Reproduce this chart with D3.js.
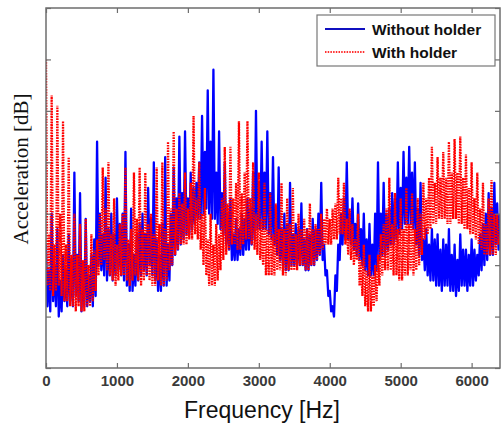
<!DOCTYPE html>
<html>
<head>
<meta charset="utf-8">
<script src="https://cdn.jsdelivr.net/npm/d3@7"></script>
<style>
  body { margin: 0; background: #fff; }
  svg { display: block; }
</style>
</head>
<body>
<div id="chart"></div>
<script>
// spectrum sampled every 20 Hz, 0..6400 Hz (levels in dB, relative)
var freqStep = 20;
var xTicks = [0, 1000, 2000, 3000, 4000, 5000, 6000];
var seriesNames = ["Without holder", "With holder"];

var withoutHolder = [
  24, 12, 19, 11, 30, 13, 20, 12, 27, 10, 17, 11, 22, 13, 19, 12, 26, 13, 21, 12,
  38, 14, 22, 13, 34, 11, 20, 12, 29, 12, 18, 13, 22, 12, 25, 14, 44, 20, 30, 19,
  26, 18, 37, 17, 27, 18, 30, 17, 26, 18, 33, 19, 28, 18, 30, 17, 42, 16, 24, 15,
  31, 15, 22, 16, 26, 17, 28, 18, 30, 19, 26, 18, 35, 20, 29, 18, 40, 17, 25, 15,
  22, 15, 28, 16, 41, 16, 24, 17, 30, 20, 39, 22, 33, 23, 45, 24, 34, 25, 46, 26,
  33, 26, 38, 27, 35, 28, 36, 29, 40, 29, 49, 30, 42, 31, 54, 30, 44, 29, 58, 29,
  38, 28, 46, 27, 34, 26, 40, 24, 30, 23, 33, 21, 26, 21, 29, 21, 27, 22, 30, 22,
  29, 23, 33, 23, 31, 24, 38, 25, 50, 27, 36, 27, 44, 27, 38, 27, 46, 26, 34, 25,
  41, 24, 31, 22, 39, 21, 27, 20, 30, 19, 28, 19, 36, 20, 26, 20, 28, 20, 27, 20,
  32, 20, 25, 19, 27, 19, 26, 20, 29, 20, 27, 21, 30, 22, 36, 21, 24, 18, 19, 14,
  15, 11, 12, 10, 18, 15, 24, 21, 30, 24, 33, 25, 40, 25, 30, 24, 33, 23, 28, 22,
  32, 21, 27, 20, 30, 19, 25, 18, 28, 18, 24, 18, 30, 19, 40, 21, 30, 22, 36, 22,
  30, 23, 31, 24, 34, 24, 33, 25, 40, 26, 35, 27, 42, 28, 37, 28, 43, 28, 38, 27,
  40, 24, 31, 22, 36, 21, 25, 19, 27, 18, 24, 17, 27, 17, 25, 16, 26, 16, 23, 15,
  25, 16, 24, 16, 27, 15, 22, 15, 24, 14, 21, 15, 26, 16, 23, 16, 23, 15, 22, 16,
  25, 16, 23, 17, 22, 18, 26, 19, 28, 20, 30, 21, 34, 22, 31, 22, 36, 24, 32, 23,
  30
];

var withHolder = [
  60, 16, 26, 15, 53, 14, 24, 15, 51, 16, 30, 14, 48, 13, 24, 13, 41, 12, 22, 12,
  30, 11, 22, 12, 28, 11, 21, 11, 29, 12, 20, 12, 26, 13, 23, 15, 25, 18, 30, 20,
  39, 21, 31, 19, 40, 18, 26, 17, 33, 16, 24, 17, 28, 18, 30, 18, 39, 17, 25, 16,
  27, 17, 38, 18, 29, 17, 39, 16, 27, 17, 38, 18, 28, 17, 30, 16, 26, 16, 39, 17,
  28, 16, 40, 16, 27, 17, 44, 19, 31, 20, 46, 22, 31, 23, 34, 24, 32, 24, 38, 24,
  31, 25, 36, 25, 49, 26, 33, 25, 40, 23, 30, 20, 35, 18, 25, 16, 30, 16, 24, 16,
  28, 17, 26, 19, 33, 21, 43, 22, 32, 23, 43, 24, 33, 24, 36, 23, 48, 23, 34, 24,
  38, 25, 48, 25, 33, 24, 40, 23, 30, 22, 38, 21, 29, 20, 36, 18, 27, 18, 34, 18,
  26, 18, 32, 19, 27, 19, 36, 18, 27, 18, 33, 19, 28, 19, 35, 19, 26, 19, 30, 20,
  27, 20, 29, 19, 27, 19, 32, 20, 27, 20, 28, 21, 27, 22, 30, 23, 29, 24, 31, 24,
  29, 24, 31, 25, 32, 25, 37, 26, 33, 26, 36, 24, 29, 22, 31, 21, 28, 20, 25, 21,
  30, 16, 21, 14, 24, 12, 19, 11, 22, 11, 18, 12, 20, 13, 22, 16, 26, 18, 28, 19,
  31, 19, 37, 19, 28, 18, 34, 18, 27, 17, 33, 17, 27, 18, 35, 18, 28, 19, 34, 18,
  27, 19, 33, 20, 30, 22, 36, 25, 33, 26, 37, 27, 43, 28, 36, 28, 41, 29, 37, 29,
  42, 29, 37, 28, 44, 28, 38, 29, 44.5, 29, 38, 28, 45, 28, 37, 27, 41.5, 27, 35, 26,
  40, 26, 33, 25, 38, 24, 31, 23, 36, 22, 28, 22, 33, 22, 36.5, 22, 30, 22, 30, 24,
  26
];

var width = 502, height = 423;
var mLeft = 46, mRight = 500, mTop = 8, mBottom = 368;

var svg = d3.select("#chart").append("svg")
  .attr("width", width)
  .attr("height", height);

var x = d3.scaleLinear().domain([0, 6400]).range([mLeft, mRight]);
var y = d3.scaleLinear().domain([0, 70]).range([mBottom, mTop]);

svg.append("defs").append("clipPath").attr("id", "plotclip")
  .append("rect")
    .attr("x", mLeft).attr("y", mTop)
    .attr("width", mRight - mLeft).attr("height", mBottom - mTop);

var line = d3.line()
  .x(function(d, i) { return x(i * freqStep); })
  .y(function(d) { return y(d); });

var plot = svg.append("g").attr("clip-path", "url(#plotclip)");

// blue first, dotted red over it
plot.append("path")
  .datum(withoutHolder)
  .attr("d", line)
  .attr("fill", "none")
  .attr("stroke", "#0000ff")
  .attr("stroke-width", 2.3)
  .attr("stroke-linejoin", "round");

plot.append("path")
  .datum(withHolder)
  .attr("d", line)
  .attr("fill", "none")
  .attr("stroke", "#ff0000")
  .attr("stroke-width", 2.3)
  .attr("stroke-dasharray", "1.6,1.1");

// axes, matlab style ticks pointing inward
var axisColor = "#6e6e6e";
var xb = svg.append("g")
  .attr("transform", "translate(0," + mBottom + ")")
  .call(d3.axisBottom(x).tickValues(xTicks).tickSize(-5).tickPadding(7).tickFormat(d3.format("d")));
var xt = svg.append("g")
  .attr("transform", "translate(0," + mTop + ")")
  .call(d3.axisTop(x).tickValues(xTicks).tickSize(-5).tickFormat(""));
var yl = svg.append("g")
  .attr("transform", "translate(" + mLeft + ",0)")
  .call(d3.axisLeft(y).ticks(7).tickSize(-5).tickFormat(""));
var yr = svg.append("g")
  .attr("transform", "translate(" + mRight + ",0)")
  .call(d3.axisRight(y).ticks(7).tickSize(-5).tickFormat(""));

[xb, xt, yl, yr].forEach(function(g) {
  g.select(".domain").remove();
  g.selectAll(".tick line").attr("stroke", axisColor).attr("stroke-width", 1.2);
});

xb.selectAll(".tick text")
  .attr("fill", "#3a3a3a")
  .style("font-family", "Liberation Sans, Arial, sans-serif")
  .style("font-size", "15px")
  .style("font-weight", "bold");

svg.append("rect")
  .attr("x", mLeft).attr("y", mTop)
  .attr("width", mRight - mLeft).attr("height", mBottom - mTop)
  .attr("fill", "none")
  .attr("stroke", axisColor)
  .attr("stroke-width", 1.5);

// axis titles
svg.append("text")
  .attr("x", 262).attr("y", 418)
  .attr("text-anchor", "middle")
  .style("font-family", "Liberation Sans, Arial, sans-serif")
  .style("font-size", "23px")
  .attr("fill", "#111")
  .text("Frequency [Hz]");

svg.append("text")
  .attr("transform", "translate(28,169) rotate(-90)")
  .attr("text-anchor", "middle")
  .style("font-family", "Liberation Serif, Times New Roman, serif")
  .style("font-size", "21px")
  .attr("fill", "#111")
  .text("Acceleration [dB]");

// legend
var legend = svg.append("g");
legend.append("rect")
  .attr("x", 317).attr("y", 15)
  .attr("width", 178).attr("height", 51)
  .attr("fill", "#fff")
  .attr("stroke", "#777")
  .attr("stroke-width", 1.2);

var legendStyles = [
  { color: "#1010c0", dash: null },
  { color: "#ff3030", dash: "1.5,1.2" }
];
seriesNames.forEach(function(name, i) {
  var ly = 29 + i * 23;
  legend.append("line")
    .attr("x1", 325).attr("x2", 365)
    .attr("y1", ly).attr("y2", ly)
    .attr("stroke", legendStyles[i].color)
    .attr("stroke-width", 2)
    .attr("stroke-dasharray", legendStyles[i].dash);
  legend.append("text")
    .attr("x", 372).attr("y", ly + 5.5)
    .style("font-family", "Liberation Sans, Arial, sans-serif")
    .style("font-size", "15.5px")
    .style("font-weight", "bold")
    .attr("fill", "#111")
    .text(name);
});
</script>
</body>
</html>
